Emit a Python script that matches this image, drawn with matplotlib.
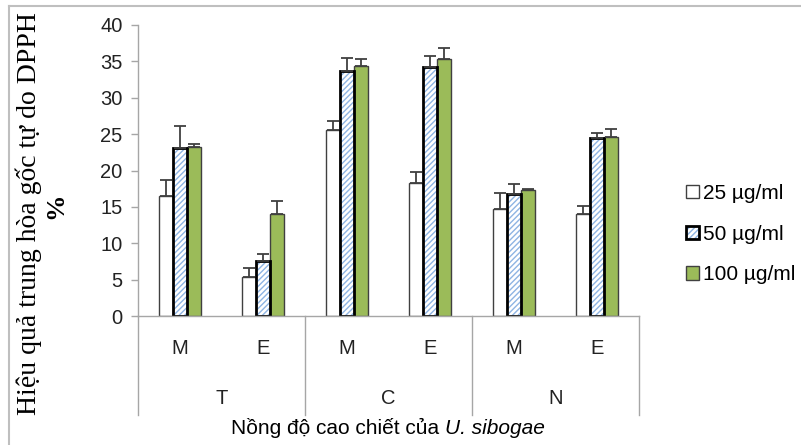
import matplotlib
matplotlib.use("Agg")
import matplotlib.pyplot as plt
import numpy as np
from matplotlib.patches import Rectangle
from matplotlib.lines import Line2D

groups = ["T", "C", "N"]
extracts = ["M", "E", "M", "E", "M", "E"]
legend_labels = ["25 µg/ml", "50 µg/ml", "100 µg/ml"]

vals_25 = [16.5, 5.4, 25.6, 18.3, 14.7, 14.0]
err_25 = [2.2, 1.2, 1.2, 1.5, 2.2, 1.1]
vals_50 = [23.1, 7.5, 33.7, 34.2, 16.8, 24.5]
err_50 = [3.0, 1.0, 1.8, 1.5, 1.3, 0.6]
vals_100 = [23.2, 14.0, 34.3, 35.3, 17.3, 24.6]
err_100 = [0.4, 1.8, 1.0, 1.6, 0.1, 1.15]

green = "#9BBB59"
hatch_blue = "#8EB4E3"
dark = "#404040"
grid_gray = "#A6A6A6"

plt.rcParams["hatch.linewidth"] = 1.0

fig = plt.figure(figsize=(8.01, 4.45), dpi=100)
ax = fig.add_axes([138 / 801, 1 - 316 / 445, (639 - 138) / 801, 291 / 445])

x = np.arange(len(extracts)) + 0.5
w = 0.168
ekw = dict(ecolor=dark, elinewidth=1.3, capthick=1.3)

# 25 ug/ml: plain white bars
ax.bar(x - w, vals_25, w, color="white", edgecolor=dark, linewidth=1.0, zorder=2)
ax.errorbar(x - w, vals_25, yerr=[np.zeros(6), err_25], fmt="none", capsize=4, zorder=3, **ekw)

# 50 ug/ml: light blue hatching under a heavy black outline
ax.bar(x, vals_50, w, color="white", edgecolor=hatch_blue, hatch="//////", linewidth=0, zorder=2)
ax.bar(x, vals_50, w, fill=False, edgecolor="black", linewidth=2.0, zorder=2.5)
ax.errorbar(x, vals_50, yerr=[np.zeros(6), err_50], fmt="none", capsize=4, zorder=3, **ekw)

# 100 ug/ml: solid green bars
ax.bar(x + w, vals_100, w, color=green, edgecolor=dark, linewidth=1.0, zorder=2)
ax.errorbar(x + w, vals_100, yerr=[np.zeros(6), err_100], fmt="none", capsize=4, zorder=3, **ekw)

ax.set_xlim(0, 6)
ax.set_ylim(0, 40)
ax.set_yticks(range(0, 41, 5))
ax.set_xticks([])
for s in ["top", "right"]:
    ax.spines[s].set_visible(False)
ax.spines["left"].set_color(grid_gray)
ax.spines["bottom"].set_color(grid_gray)
ax.spines["left"].set_linewidth(1.0)
ax.spines["bottom"].set_linewidth(1.0)
ax.tick_params(axis="y", length=5, width=1.0, color=grid_gray, pad=6,
               labelsize=14.5, labelcolor="#222222")
for lab in ax.get_yticklabels():
    lab.set_fontfamily("Liberation Sans")

# two-level category axis
tr = ax.get_xaxis_transform()
for xi, name in zip(x, extracts):
    ax.text(xi, -0.113, name, transform=tr, ha="center", va="center",
            fontsize=14.5, family="Liberation Sans", color="#222222")
for gi, name in enumerate(groups):
    ax.text(2 * gi + 1, -0.282, name, transform=tr, ha="center", va="center",
            fontsize=14.5, family="Liberation Sans", color="#222222")
for xd in [0, 2, 4, 6]:
    ax.add_line(Line2D([xd, xd], [0, -0.34], transform=tr, color=grid_gray,
                       linewidth=1.0, clip_on=False))

# x label: regular part followed by the italic species name
renderer = fig.canvas.get_renderer()
xl_y = 1 - 428 / 445
t1 = fig.text(0, xl_y, "Nồng độ cao chiết của ", ha="left", va="center",
              fontsize=15, family="Liberation Sans")
t2 = fig.text(0, xl_y, "U. sibogae", ha="left", va="center",
              fontsize=15, family="Liberation Sans", style="italic")
w1 = t1.get_window_extent(renderer).width
w2 = t2.get_window_extent(renderer).width
x_start = 388 - (w1 + w2) / 2
t1.set_x(x_start / 801)
t2.set_x((x_start + w1) / 801)

# y label in two lines, percent sign in bold
fig.text(29 / 801, 1 - 214 / 445, "Hiệu quả trung hòa gốc tự do DPPH",
         rotation=90, ha="center", va="center", fontsize=20, family="Liberation Serif")
fig.text(56 / 801, 1 - 206 / 445, "%", rotation=90, ha="center", va="center",
         fontsize=19, family="Liberation Serif", weight="bold")

# legend
h25 = Rectangle((0, 0), 1, 1, facecolor="white", edgecolor=dark, linewidth=1.0)
h50a = Rectangle((0, 0), 1, 1, facecolor="white", edgecolor=hatch_blue, hatch="//////", linewidth=0)
h50b = Rectangle((0, 0), 1, 1, fill=False, edgecolor="black", linewidth=2.0)
h100 = Rectangle((0, 0), 1, 1, facecolor=green, edgecolor=dark, linewidth=1.0)
fig.legend([h25, (h50a, h50b), h100], legend_labels, loc="center left",
           bbox_to_anchor=(676 / 801, 1 - 234 / 445), frameon=False,
           prop={"family": "Liberation Sans", "size": 15},
           handlelength=0.6, handleheight=0.6, handletextpad=0.2,
           labelspacing=1.05, borderpad=0)

# outer frame (left and top edges only)
fig.add_artist(Line2D([9 / 801, 9 / 801], [0, 1 - 6 / 445], transform=fig.transFigure,
                      color="#BFBFBF", linewidth=1.5))
fig.add_artist(Line2D([9 / 801, 1], [1 - 6 / 445, 1 - 6 / 445], transform=fig.transFigure,
                      color="#BFBFBF", linewidth=1.5))

fig.savefig("out.png", dpi=100)
